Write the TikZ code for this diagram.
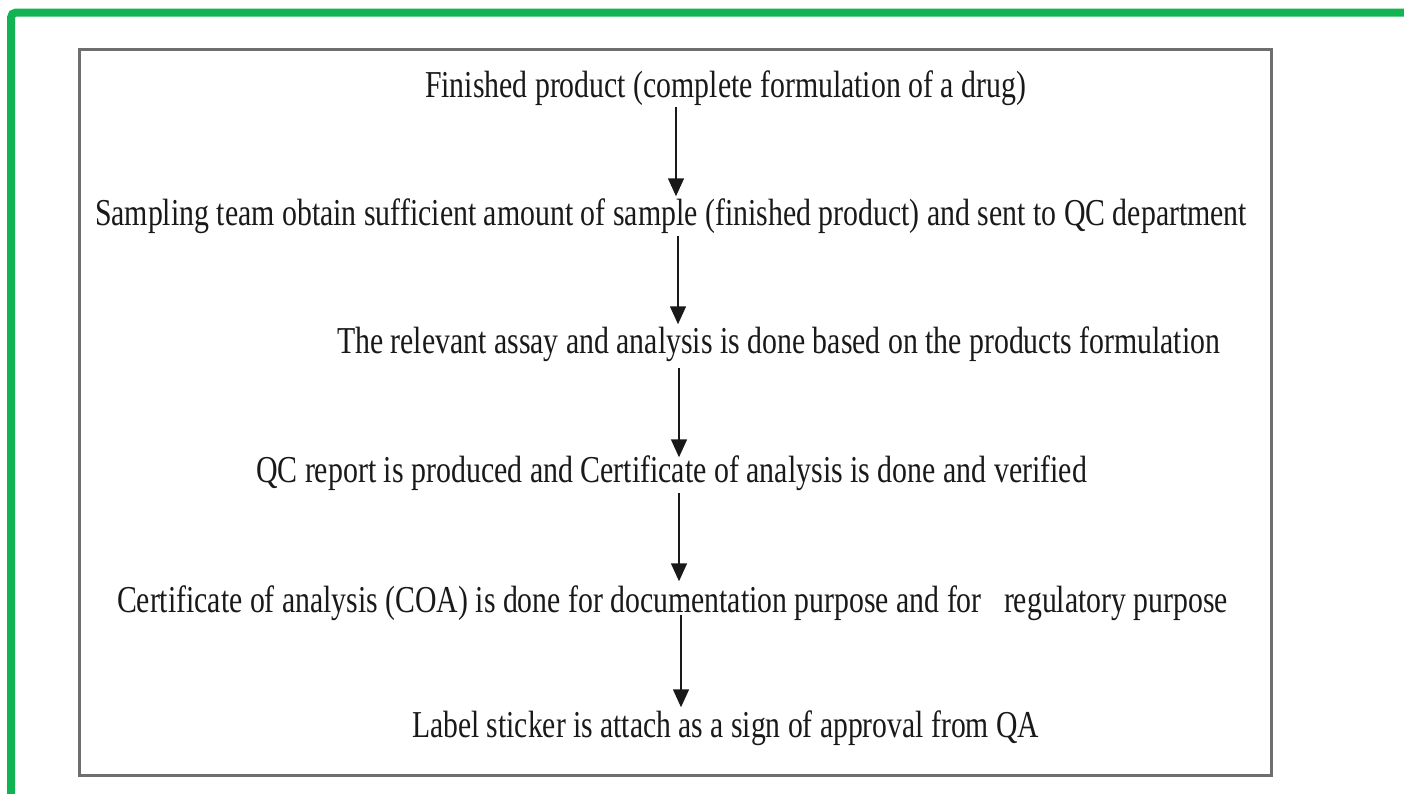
\documentclass[tikz,border=0pt]{standalone}
\usepackage{fontspec}
\setmainfont{Liberation Serif}
\usepackage{graphicx}
\usetikzlibrary{arrows.meta}
\definecolor{frame}{RGB}{16,180,82}
\definecolor{boxgray}{RGB}{110,110,110}
\definecolor{ink}{RGB}{25,25,25}
\tikzset{
  txt/.style={anchor=base west, inner sep=0pt, outer sep=0pt, text=ink, font=\fontsize{38}{42}\selectfont},
  arr/.style={draw=ink, line width=1.6pt, -{Triangle[length=18pt,width=16pt]}},
}
\newcommand{\fitw}[2]{\resizebox{#1pt}{\height}{#2}}
\begin{document}
\begin{tikzpicture}[x=1pt,y=-1pt]
\useasboundingbox (0,0) rectangle (1404,793);
\fill[white] (0,0) rectangle (1404,793);
% green frame
\draw[frame, line width=8pt, rounded corners=5pt] (1410,12.5) -- (11,12.5) -- (11,800);
% gray box
\draw[boxgray, line width=3pt] (79.5,49.5) rectangle (1271,775);
% texts
\node[txt] (t1) at (425,97) {\fitw{601}{Finished product (complete formulation of a drug)}};
\node[txt] (t2) at (95,225) {\fitw{1152}{Sampling team obtain sufficient amount of sample (finished product) and sent to QC department}};
\node[txt] (t3) at (337,353) {\fitw{883}{The relevant assay and analysis is done based on the products formulation}};
\node[txt] (t4) at (256,482) {\fitw{831}{QC report is produced and Certificate of analysis is done and verified}};
\node[txt] (t5) at (117,612) {\fitw{1111}{Certificate of analysis (COA) is done for documentation purpose and for\ \ \ regulatory purpose}};
\node[txt] (t6) at (412,737) {\fitw{627}{Label sticker is attach as a sign of approval from QA}};
% arrow columns
\coordinate (x1) at (676,0);
\coordinate (x2) at (678,0);
\coordinate (x3) at (679,0);
\coordinate (x4) at (679,0);
\coordinate (x5) at (681,0);
\draw[arr, shorten <=2pt, shorten >=2pt] (t1.south -| x1) -- (t2.north -| x1);
\draw[arr, shorten <=3pt, shorten >=2pt] (t2.south -| x2) -- (t3.north -| x2);
\draw[arr, shorten <=7pt, shorten >=-2pt] (t3.south -| x3) -- (t4.north -| x3);
\draw[arr, shorten <=3pt, shorten >=4pt] (t4.south -| x4) -- (t5.north -| x4);
\draw[arr, shorten <=-5pt, shorten >=3pt] (t5.south -| x5) -- (t6.north -| x5);
\end{tikzpicture}
\end{document}
